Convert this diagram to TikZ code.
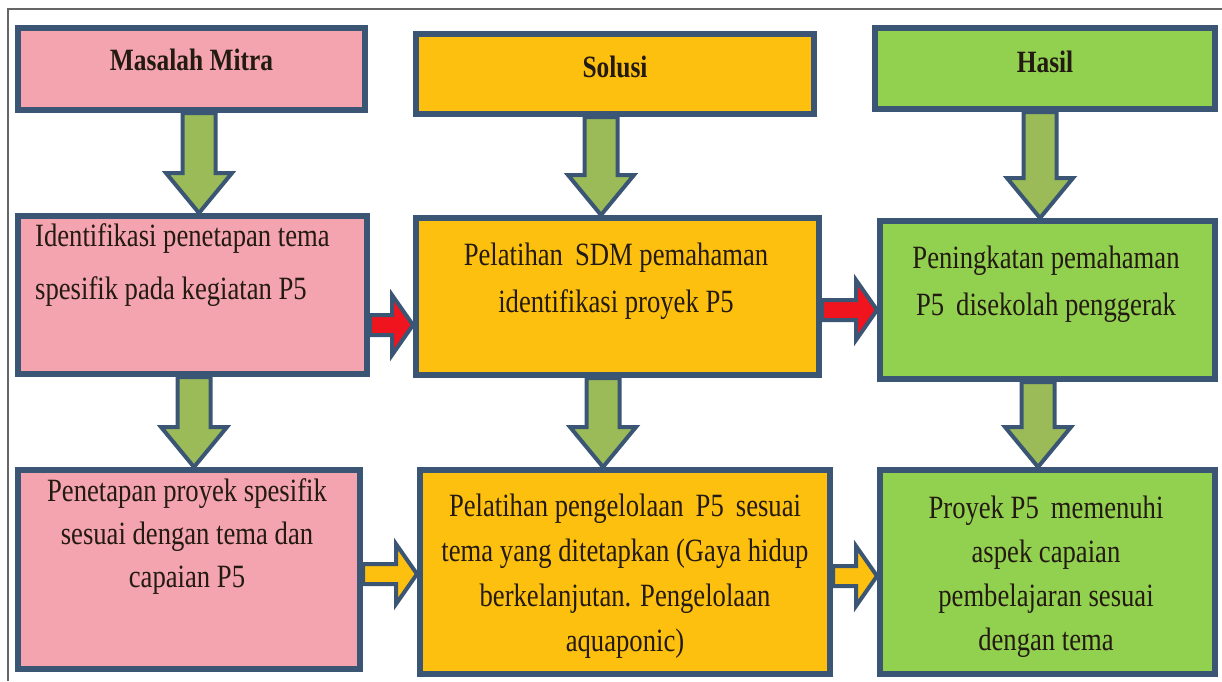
\documentclass[tikz,border=0pt]{standalone}
\usepackage{fontspec}
\setmainfont[FakeStretch=0.82]{Liberation Serif}
\usetikzlibrary{calc, positioning}
\definecolor{bordercol}{HTML}{3B5675}
\definecolor{pinkfill}{HTML}{F4A4AE}
\definecolor{goldfill}{HTML}{FEC00F}
\definecolor{limefill}{HTML}{92D050}
\definecolor{olivefill}{HTML}{9BBB59}
\definecolor{redfill}{HTML}{F0141E}
\definecolor{inkcol}{HTML}{231A12}
\tikzset{x=1pt, y=-1pt, % work in pixels of the page, y going down
box/.style={ % the coloured blocks
draw=bordercol, line width=6pt, inner sep=0pt},
pinkbox/.style={box, fill=pinkfill},
goldbox/.style={box, fill=goldfill},
limebox/.style={box, fill=limefill},
title/.style={ % column headers
inner sep=0pt, text=inkcol, font=\fontsize{31}{36}\selectfont\bfseries},
body/.style={ % text inside the blocks
inner sep=0pt, align=center, text=inkcol, font=\fontsize{32.5}{45}\selectfont},
blk/.style={draw=bordercol, line width=4pt, line join=miter},
frame/.style={draw=gray!80!black, line width=1.5pt}}

% fat arrow pointing down, from a coordinate to the top of a node
\newcommand{\downblk}[3]{%
  \coordinate (tip) at (#1 |- #2);
  \draw[blk, fill=#3] ($(#1)+(-16.5,0)$) -- ($(tip)+(-16.5,-40)$) -- ($(tip)+(-33,-40)$) -- (tip)
    -- ($(tip)+(33,-40)$) -- ($(tip)+(16.5,-40)$) -- ($(#1)+(16.5,0)$) -- cycle;}
% fat arrow pointing right, from a coordinate to the left side of a node
\newcommand{\rightblk}[3]{%
  \coordinate (tip) at (#1 -| #2);
  \draw[blk, fill=#3] ($(#1)+(0,-10)$) -- ($(tip)+(-21,-10)$) -- ($(tip)+(-21,-30)$) -- (tip)
    -- ($(tip)+(-21,30)$) -- ($(tip)+(-21,10)$) -- ($(#1)+(0,10)$) -- cycle;}

\begin{document}
\begin{tikzpicture}
    \useasboundingbox (0,0) rectangle (1222,681);
    \draw[frame] (8,681) -- (8,9) -- (1222,9);

    % headers
    \node[pinkbox, minimum width=347pt, minimum height=82pt] (mitra) at (191.5,69) {};
    \node[goldbox, minimum width=398pt, minimum height=80pt] (solusi) at (615,74) {};
    \node[limebox, minimum width=340pt, minimum height=81pt] (hasil) at (1045,68.5) {};

    % second row
    \node[pinkbox, minimum width=349pt, minimum height=158pt] (ident) at (192.5,295) {};
    \node[goldbox, minimum width=403pt, minimum height=157pt] (pelat) at (617.5,296.5) {};
    \node[limebox, minimum width=335pt, minimum height=158pt] (pening) at (1047.5,300) {};

    % third row
    \node[pinkbox, minimum width=342pt, minimum height=199pt] (penet) at (189,569.5) {};
    \node[goldbox, minimum width=410pt, minimum height=204pt] (kelola) at (625,572) {};
    \node[limebox, minimum width=335pt, minimum height=204pt] (proyek) at (1047.5,572) {};

    % texts
    \node[title, anchor=north] (tmitra) at ([yshift=-24pt]mitra.north) {Masalah Mitra};
    \node[title, anchor=north] (tsolusi) at ([yshift=-25pt]solusi.north) {Solusi};
    \node[title, anchor=north] (thasil) at ([yshift=-26pt]hasil.north) {Hasil};

    \node[body, align=left, anchor=north west, font=\fontsize{32.5}{53}\selectfont] (tident)
        at ([xshift=20pt, yshift=-10pt]ident.north west)
        {Identifikasi penetapan tema\\spesifik pada kegiatan P5};
    \node[body, anchor=north, font=\fontsize{32.5}{47}\selectfont] (tpelat) at ([xshift=-1.5pt, yshift=-28pt]pelat.north)
        {Pelatihan \,SDM pemahaman\\identifikasi proyek P5};
    \node[body, anchor=north, font=\fontsize{32.5}{47}\selectfont] (tpening) at ([xshift=-1.5pt, yshift=-28pt]pening.north)
        {Peningkatan pemahaman\\P5 \,disekolah penggerak};

    \node[body, anchor=north, font=\fontsize{32.5}{43}\selectfont] (tpenet) at ([xshift=-2pt, yshift=-11pt]penet.north)
        {Penetapan proyek spesifik\\sesuai dengan tema dan\\capaian P5};
    \node[body, anchor=north] (tkelola) at ([yshift=-27pt]kelola.north)
        {Pelatihan pengelolaan \,P5 \,sesuai\\tema yang ditetapkan (Gaya hidup\\berkelanjutan. Pengelolaan\\aquaponic)};
    \node[body, anchor=north, font=\fontsize{32.5}{44}\selectfont] (tproyek) at ([xshift=-1.5pt, yshift=-29pt]proyek.north)
        {Proyek P5 \,memenuhi\\aspek capaian\\pembelajaran sesuai\\dengan tema};

    % down arrows
    \coordinate (d1) at ([xshift=7.5pt]mitra.south);
    \coordinate (d2) at ([xshift=-14pt]solusi.south);
    \coordinate (d3) at ([xshift=-5pt]hasil.south);
    \coordinate (d4) at ([xshift=1.5pt]ident.south);
    \coordinate (d5) at ([xshift=-14.5pt]pelat.south);
    \coordinate (d6) at ([xshift=-9.5pt]pening.south);
    \downblk{d1}{ident.north}{olivefill}
    \downblk{d2}{pelat.north}{olivefill}
    \downblk{d3}{pening.north}{olivefill}
    \downblk{d4}{penet.north}{olivefill}
    \downblk{d5}{kelola.north}{olivefill}
    \downblk{d6}{proyek.north}{olivefill}

    % right arrows
    \coordinate (r1) at ([yshift=-30pt]ident.east);
    \coordinate (r2) at ([yshift=-13.5pt]pelat.east);
    \coordinate (r3) at ([yshift=-4.5pt]penet.east);
    \coordinate (r4) at ([yshift=-4pt]kelola.east);
    \rightblk{r1}{pelat.west}{redfill}
    \rightblk{r2}{pening.west}{redfill}
    \rightblk{r3}{kelola.west}{goldfill}
    \rightblk{r4}{proyek.west}{goldfill}

\end{tikzpicture}
\end{document}
